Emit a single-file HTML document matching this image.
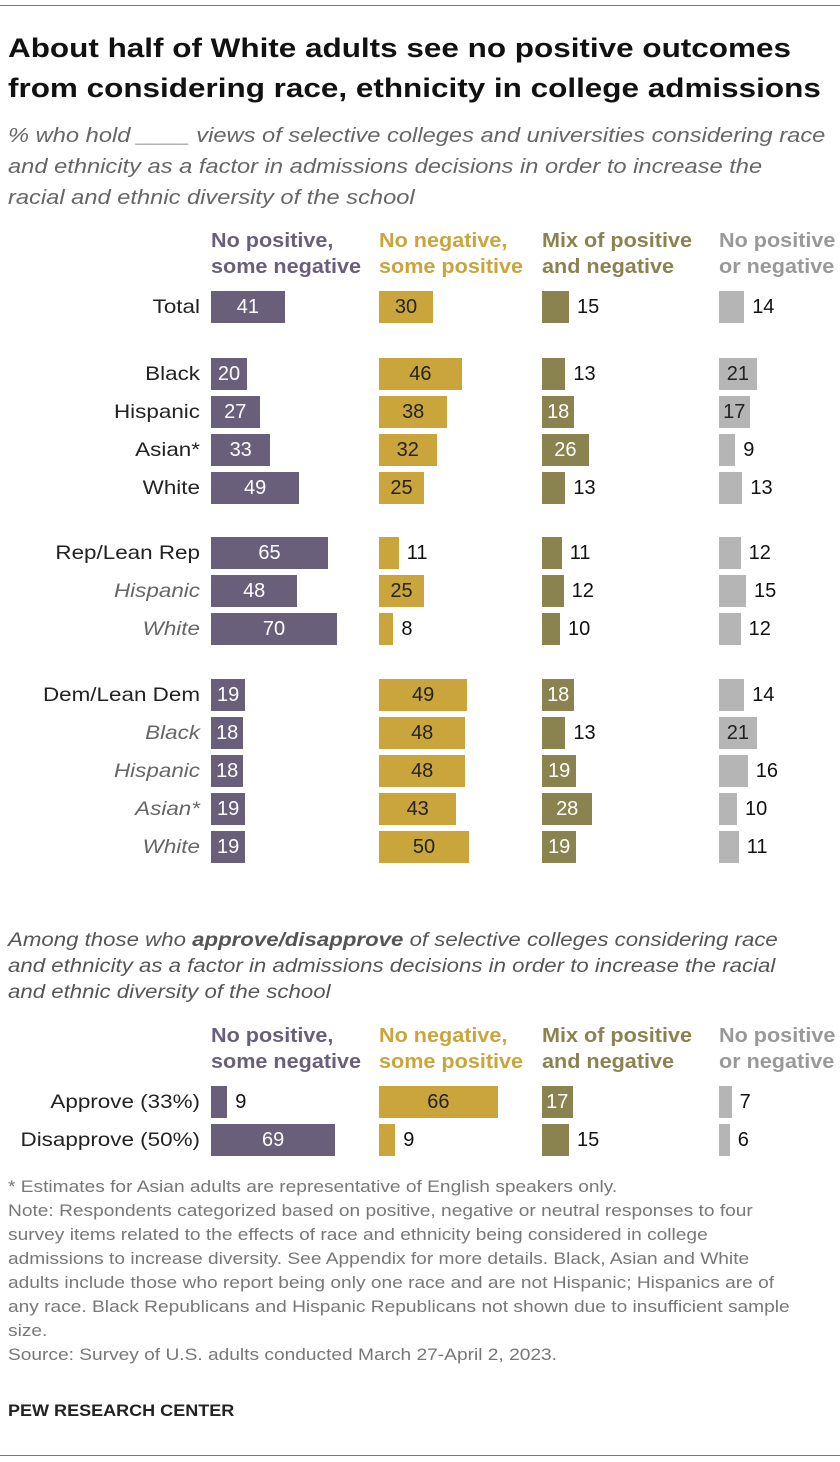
<!DOCTYPE html>
<html><head><meta charset="utf-8">
<style>
body{margin:0;width:840px;height:1462px;background:#fff;font-family:"Liberation Sans",sans-serif;position:relative;overflow:hidden}
.a{position:absolute;white-space:nowrap}
.rule{position:absolute;left:0;width:840px;height:1px;background:#777}
.title{left:8px;top:28px;font-size:27px;font-weight:bold;color:#111;line-height:40px;transform:scaleX(1.165);transform-origin:left top}
.sub{left:8px;font-style:italic;font-size:20.5px;color:#666;line-height:31px;transform:scaleX(1.155);transform-origin:left top}
.hd{font-family:"Liberation Sans Narrow","Liberation Sans",sans-serif;font-weight:bold;font-size:20px;line-height:26px;transform:scaleX(1.08);transform-origin:left top}
.lbl{font-size:19.5px;color:#222;text-align:right;width:200px;left:0;line-height:32px;transform:scaleX(1.15);transform-origin:right top}
.bar{position:absolute;height:32px}
.val{position:absolute;font-size:20px;line-height:33px}
.note{left:8px;font-size:16.5px;color:#777;line-height:24px;transform:scaleX(1.16);transform-origin:left top}
</style></head><body>
<div class="rule" style="top:5px"></div>
<div class="a title">About half of White adults see no positive outcomes<br>from considering race, ethnicity in college admissions</div>
<div class="a sub" style="top:120px">% who hold ____ views of selective colleges and universities considering race<br>and ethnicity as a factor in admissions decisions in order to increase the<br>racial and ethnic diversity of the school</div>
<div class="a sub" style="top:928px;font-size:19px;line-height:26px;color:#555;transform:scaleX(1.17)">Among those who <b>approve/disapprove</b> of selective colleges considering race<br>and ethnicity as a factor in admissions decisions in order to increase the racial<br>and ethnic diversity of the school</div>
<div id="chart"></div>
<div class="a note" style="top:1175px">* Estimates for Asian adults are representative of English speakers only.<br>Note: Respondents categorized based on positive, negative or neutral responses to four<br>survey items related to the effects of race and ethnicity being considered in college<br>admissions to increase diversity. See Appendix for more details. Black, Asian and White<br>adults include those who report being only one race and are not Hispanic; Hispanics are of<br>any race. Black Republicans and Hispanic Republicans not shown due to insufficient sample<br>size.<br>Source: Survey of U.S. adults conducted March 27-April 2, 2023.</div>
<div class="a" style="left:8px;top:1401px;font-size:17px;font-weight:bold;color:#222;transform:scaleX(1.06);transform-origin:left top">PEW RESEARCH CENTER</div>
<div class="rule" style="top:1455px"></div>
<script>
const categories=["Total","Black","Hispanic","Asian*","White","Rep/Lean Rep","Hispanic","White","Dem/Lean Dem","Black","Hispanic","Asian*","White","Approve (33%)","Disapprove (50%)"];
const italicRows=[false,false,false,false,false,false,true,true,false,true,true,true,true,false,false];
const rowCenters=[307,374,412,450,488,553,591,629,695,733,771,809,847,1102,1140];
const noPosSomeNeg=[41,20,27,33,49,65,48,70,19,18,18,19,19,9,69];
const noNegSomePos=[30,46,38,32,25,11,25,8,49,48,48,43,50,66,9];
const mixPosNeg=[15,13,18,26,13,11,12,10,18,13,19,28,19,17,15];
const noPosNoNeg=[14,21,17,9,13,12,15,12,14,21,16,10,11,7,6];
const seriesNames=["No positive,<br>some negative","No negative,<br>some positive","Mix of positive<br>and negative","No positive<br>or negative"];
const series=[noPosSomeNeg,noNegSomePos,mixPosNeg,noPosNoNeg];
const colX=[211,379,542,719];
const colors=["#6a5f7a","#c9a53c","#8a8350","#b5b5b5"];
const headColors=["#6a5f7a","#c9a53c","#8a8350","#999999"];
const inText=["#fff","#222","#fff","#222"];
const scale=v=>v*1.8;
const c=document.getElementById('chart');
[228,1023].forEach((top,h)=>{
  seriesNames.forEach((n,i)=>{
    const d=document.createElement('div');d.className='a hd';
    d.style.left=colX[i]+'px';d.style.top=top+'px';d.style.color=headColors[i];d.innerHTML=n;
    
    
    c.appendChild(d);
  });
});
categories.forEach((cat,r)=>{
  const y=rowCenters[r]-16;
  const l=document.createElement('div');l.className='a lbl';l.style.top=y+'px';l.textContent=cat;
  if(italicRows[r]){l.style.fontStyle='italic';l.style.color='#666';}
  
  
  c.appendChild(l);
  series.forEach((s,i)=>{
    const v=s[r],w=scale(v);
    const b=document.createElement('div');b.className='bar';
    b.style.left=colX[i]+'px';b.style.top=y+'px';b.style.width=w+'px';b.style.background=colors[i];
    
    
    c.appendChild(b);
    const t=document.createElement('div');t.className='val';t.style.top=y+'px';t.textContent=v;
    if(w>=30){t.style.left=colX[i]+'px';t.style.width=w+'px';t.style.textAlign='center';t.style.color=inText[i];}
    else{t.style.left=(colX[i]+w+8)+'px';t.style.color='#111';}
    
    
    c.appendChild(t);
  });
});
</script>
</body></html>
